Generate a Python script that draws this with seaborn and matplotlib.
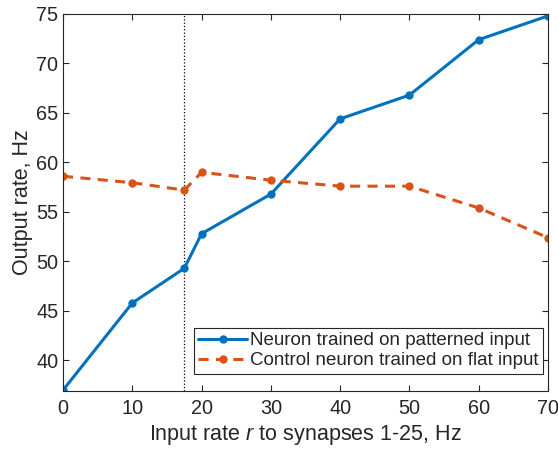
import pandas as pd
import seaborn as sns
import matplotlib.pyplot as plt

# Input rates (Hz) and measured output rates (Hz)
input_rate = [0, 10, 17.5, 20, 30, 40, 50, 60, 70]
patterned = [37.0, 45.8, 49.3, 52.8, 56.8, 64.4, 66.8, 72.4, 74.8]
flat = [58.6, 57.95, 57.2, 59.0, 58.2, 57.6, 57.6, 55.4, 52.4]

label_patterned = 'Neuron trained on patterned input'
label_flat = 'Control neuron trained on flat input'
xticks = [0, 10, 20, 30, 40, 50, 60, 70]
yticks = [40, 45, 50, 55, 60, 65, 70, 75]
marker_line = 17.5

df = pd.DataFrame({
    'rate': input_rate * 2,
    'output': patterned + flat,
    'neuron': [label_patterned] * len(input_rate) + [label_flat] * len(input_rate),
})

sns.set_style('ticks')
plt.rcParams['font.family'] = ['Liberation Sans', 'DejaVu Sans']
plt.rcParams['mathtext.fontset'] = 'custom'
plt.rcParams['mathtext.it'] = 'Liberation Sans:italic'
plt.rcParams['mathtext.rm'] = 'Liberation Sans'

fig = plt.figure(figsize=(5.58, 4.5), dpi=100)
ax = fig.add_axes([0.113, 0.131, 0.869, 0.838])

palette = {label_patterned: '#0072BD', label_flat: '#D95319'}
sns.lineplot(data=df, x='rate', y='output', hue='neuron', style='neuron',
             palette=palette, dashes={label_patterned: '', label_flat: (3.3, 2.4)},
             markers={label_patterned: 'o', label_flat: 'o'}, markersize=6,
             markeredgewidth=0, linewidth=2.2, ax=ax)

ax.axvline(marker_line, color='black', linestyle=':', linewidth=0.9, zorder=0)

ax.set_xlim(0, 70)
ax.set_ylim(36.9, 75)
ax.set_xticks(xticks)
ax.set_yticks(yticks)
ax.tick_params(direction='in', top=True, right=True, labelsize=14.3,
               colors='#262626', length=4, width=0.8)
ax.tick_params(axis='x', pad=6)
for s in ax.spines.values():
    s.set_visible(True)
    s.set_color('#262626')
    s.set_linewidth(0.8)

ax.set_xlabel('Input rate $r$ to synapses 1-25, Hz', fontsize=15.5, color='#262626', labelpad=3)
ax.set_ylabel('Output rate, Hz', fontsize=15.5, color='#262626', labelpad=2)

handles, labels = ax.get_legend_handles_labels()
leg = ax.legend(handles, labels, loc='lower right', bbox_to_anchor=(0.99, 0.045),
                fontsize=13.5, frameon=True, fancybox=False, edgecolor='#262626',
                framealpha=1, handlelength=2.6, handletextpad=0.15,
                borderpad=0.25, labelspacing=0.15, borderaxespad=0)
leg.get_frame().set_linewidth(0.8)

plt.savefig('out.png', dpi=100)
